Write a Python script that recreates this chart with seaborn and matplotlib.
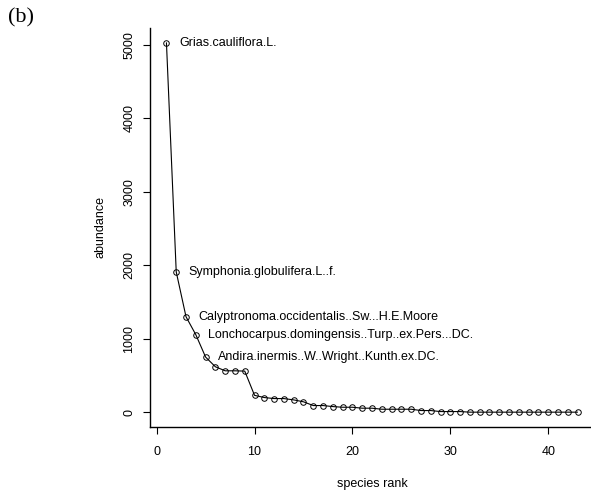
import matplotlib
matplotlib.use("Agg")
import matplotlib.pyplot as plt
import pandas as pd
import seaborn as sns

# rank-abundance data
ranks = list(range(1, 44))
abundance = [5030, 1910, 1300, 1056, 751, 619, 564, 564, 560, 230,
             200, 186, 186, 168, 142, 91, 91, 77, 68, 68,
             55, 55, 41, 41, 41, 41, 23, 23, 9, 9,
             9, 1, 1, 1, 1, 1, 1, 1, 1, 1,
             1, 1, 1]
labels = ["Grias.cauliflora.L.",
          "Symphonia.globulifera.L..f.",
          "Calyptronoma.occidentalis..Sw...H.E.Moore",
          "Lonchocarpus.domingensis..Turp..ex.Pers...DC.",
          "Andira.inermis..W..Wright..Kunth.ex.DC."]
xticks = [0, 10, 20, 30, 40]
yticks = [0, 1000, 2000, 3000, 4000, 5000]

df = pd.DataFrame({"rank": ranks, "abundance": abundance})

sns.set_style("ticks", {"axes.edgecolor": "black", "text.color": "black",
                        "axes.labelcolor": "black", "xtick.color": "black",
                        "ytick.color": "black"})
plt.rcParams["font.family"] = ["Liberation Sans", "DejaVu Sans"]

fig = plt.figure(figsize=(5.91, 4.95), dpi=100)
ax = fig.add_axes([150 / 591, 68 / 495, 444 / 591, 399 / 495])

sns.lineplot(data=df, x="rank", y="abundance", ax=ax, color="black",
             linewidth=0.8, marker="o", markersize=4, markerfacecolor="none",
             markeredgecolor="black", markeredgewidth=0.7)

for i, name in enumerate(labels):
    ax.annotate(name, (ranks[i], abundance[i]), xytext=(9, 0),
                textcoords="offset points", ha="left", va="center",
                fontsize=9, color="black")

ax.set_xlim(-0.68, 44.68)
ax.set_ylim(-201, 5231)
ax.set_xticks(xticks)
ax.set_yticks(yticks)
ax.set_yticklabels([str(v) for v in yticks], rotation=90, va="center")
ax.tick_params(axis="both", length=5, width=0.8, labelsize=9, colors="black")
ax.tick_params(axis="x", pad=9)
ax.tick_params(axis="y", pad=5.5)
ax.set_xlabel("species rank", fontsize=9, labelpad=14, color="black")
ax.set_ylabel("abundance", fontsize=9, labelpad=12, color="black")
for side in ["top", "right"]:
    ax.spines[side].set_visible(False)
for side in ["left", "bottom"]:
    ax.spines[side].set_linewidth(1.0)
    ax.spines[side].set_color("black")

fig.text(8 / 591, 1 - 18 / 495, "(b)", fontsize=16, color="black",
         family="Liberation Serif", va="center", ha="left")

fig.savefig("out.png", dpi=100)
